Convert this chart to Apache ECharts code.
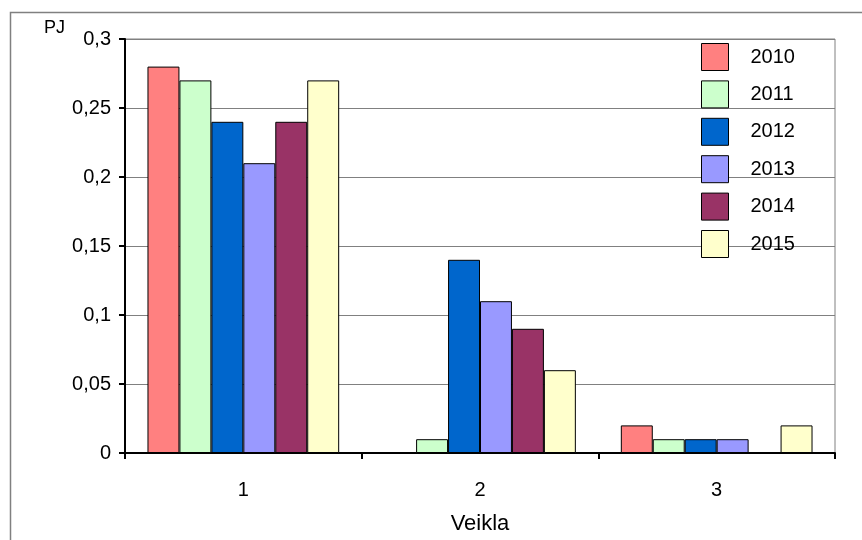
<!DOCTYPE html>
<html><head><meta charset="utf-8">
<script src="https://cdn.jsdelivr.net/npm/echarts@6/dist/echarts.min.js"></script>
<style>html,body{margin:0;padding:0;background:#fff}#c{width:862px;height:540px}</style>
</head><body><div id="c"></div>
<script>
const categories = ['1', '2', '3'];
const years = ['2010', '2011', '2012', '2013', '2014', '2015'];
const v2010 = [0.28, 0, 0.02];
const v2011 = [0.27, 0.01, 0.01];
const v2012 = [0.24, 0.14, 0.01];
const v2013 = [0.21, 0.11, 0.01];
const v2014 = [0.24, 0.09, 0];
const v2015 = [0.27, 0.06, 0.02];
const values = [v2010, v2011, v2012, v2013, v2014, v2015];
const colors = ['#FF8080', '#CCFFCC', '#0066CC', '#9999FF', '#993366', '#FFFFCC'];

const chart = echarts.init(document.getElementById('c'));
const font = '"Liberation Sans", Arial, sans-serif';
chart.setOption({
  animation: false,
  graphic: [{type:'rect', left: 8, top: 10, shape:{width: 900, height: 600}, style:{fill:'none', stroke:'#808080', lineWidth:1.5}, z: -1}],
  grid: {left: 125, right: 27, top: 39, bottom: 82, show: true, borderColor: '#808080', borderWidth: 1, backgroundColor: 'transparent'},
  legend: {
    orient: 'vertical', left: 701, top: 43, padding: 0, itemWidth: 27, itemHeight: 27, itemGap: 9.4,
    icon: 'rect',
    data: years,
    textStyle: {fontFamily: font, fontSize: 20, color: '#000', padding: [12, 0, 0, 17]},
    itemStyle: {borderColor: '#000', borderWidth: 1}
  },
  xAxis: {
    type: 'category', data: categories,
    name: 'Veikla', nameLocation: 'middle', nameGap: 60,
    nameTextStyle: {fontFamily: font, fontSize: 22, color: '#000'},
    axisLine: {lineStyle: {color: '#000', width: 2}},
    axisTick: {show: true, length: 6, lineStyle: {color: '#000', width: 2}},
    axisLabel: {fontFamily: font, fontSize: 20, color: '#000', margin: 27}
  },
  yAxis: {
    type: 'value', min: 0, max: 0.3, interval: 0.05,
    name: 'PJ', nameGap: 2,
    nameTextStyle: {fontFamily: font, fontSize: 18, color: '#000', align: 'right', padding: [0, 60, 0, 0]},
    axisLine: {show: true, lineStyle: {color: '#000', width: 2}},
    axisTick: {show: true, length: 6, lineStyle: {color: '#000', width: 2}},
    splitLine: {lineStyle: {color: '#808080', width: 1}},
    axisLabel: {fontFamily: font, fontSize: 20, color: '#000', margin: 14,
      formatter: v => String(Math.round(v*100)/100).replace('.', ',')}
  },
  series: years.map((y, i) => ({
    name: y, type: 'bar', data: values[i],
    barGap: '0%', barCategoryGap: '19%',
    itemStyle: {color: colors[i], borderColor: '#000', borderWidth: 1}
  }))
});
</script></body></html>
